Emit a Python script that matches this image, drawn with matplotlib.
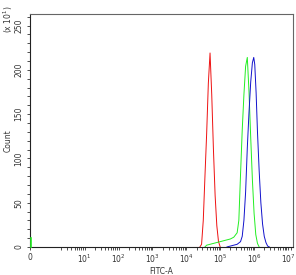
import numpy as np
import matplotlib
matplotlib.use("Agg")
import matplotlib.pyplot as plt

# histogram data (x as log10 of FITC-A, y = count)
red_lg = [4.40, 4.45, 4.50, 4.55, 4.60, 4.65, 4.70, 4.75, 4.80, 4.85, 4.90, 4.95, 5.00]
red_cnt = [0, 3, 30, 80, 128, 185, 219, 172, 110, 58, 24, 6, 0]

green_lg = [4.55, 4.60, 4.70, 4.80, 4.90, 5.00, 5.10, 5.20, 5.30, 5.40, 5.50, 5.55,
            5.60, 5.65, 5.70, 5.75, 5.80, 5.85, 5.90, 5.95, 6.00, 6.05, 6.10, 6.15]
green_cnt = [0, 2, 3, 4, 5, 6, 7, 8, 9, 11, 16, 30,
             82, 132, 172, 204, 214, 175, 124, 76, 38, 14, 4, 0]
green_zero_cnt = 10  # events piled at 0

blue_lg = [5.20, 5.30, 5.40, 5.50, 5.60, 5.65, 5.70, 5.75, 5.80, 5.85, 5.90, 5.95,
           5.99, 6.02, 6.06, 6.10, 6.15, 6.20, 6.25, 6.30, 6.35, 6.40, 6.45]
blue_cnt = [0, 1, 2, 3, 6, 12, 30, 62, 112, 152, 186, 208,
            214, 206, 174, 130, 86, 50, 26, 12, 5, 1, 0]

xtick_vals = [0, 1e1, 1e2, 1e3, 1e4, 1e5, 1e6, 1e7]
xtick_labels = ['0', '$10^{1}$', '$10^{2}$', '$10^{3}$', '$10^{4}$',
                '$10^{5}$', '$10^{6}$', '$10^{7}$']
ytick_vals = [0, 50, 100, 150, 200, 250]

fig = plt.figure(figsize=(2.96, 2.75), dpi=100)
ax = fig.add_axes([0.101, 0.102, 0.889, 0.847])

ax.set_xscale('symlog', linthresh=1, linscale=0.556)

ax.plot([0.03, 0.03], [0, green_zero_cnt], color='#22ee22', lw=1.2, zorder=5, clip_on=False)
ax.plot(10 ** np.array(red_lg), red_cnt, color='#ee1111', lw=0.7)
ax.plot(10 ** np.array(green_lg), green_cnt, color='#22ee22', lw=0.7)
ax.plot(10 ** np.array(blue_lg), blue_cnt, color='#1111cc', lw=0.7)

ax.set_xlim(0, 10 ** 7.15)
ax.set_ylim(0, 263)

ax.set_xticks(xtick_vals)
ax.set_xticklabels(xtick_labels)
minors = [m * 10 ** k for k in range(0, 7) for m in range(2, 10)] + [1.2e7]
ax.set_xticks([v for v in minors if v < 10 ** 7.15], minor=True)

ax.set_yticks(ytick_vals)
ax.set_yticks(range(0, 261, 10), minor=True)
ax.set_yticklabels([str(v) for v in ytick_vals], rotation=90, va='center')

ax.tick_params(axis='both', which='both', direction='out', length=2.5, width=0.6,
               labelsize=5.5, pad=2, colors='#333333')
ax.tick_params(axis='x', which='major', pad=1.5)

for side in ['top', 'right']:
    ax.spines[side].set_color('#666666')
    ax.spines[side].set_linewidth(0.8)
for side in ['left', 'bottom']:
    ax.spines[side].set_color('#222222')
    ax.spines[side].set_linewidth(0.8)

ax.set_xlabel('FITC-A', fontsize=5.5, labelpad=1.5, color='#333333')
fig.text(0.027, 0.49, 'Count', rotation=90, fontsize=5.5, ha='center', va='center', color='#333333')
fig.text(0.027, 0.93, '(x 10$^{1}$)', rotation=90, fontsize=5.5, ha='center', va='center', color='#333333')

fig.savefig('out.png', dpi=100)
